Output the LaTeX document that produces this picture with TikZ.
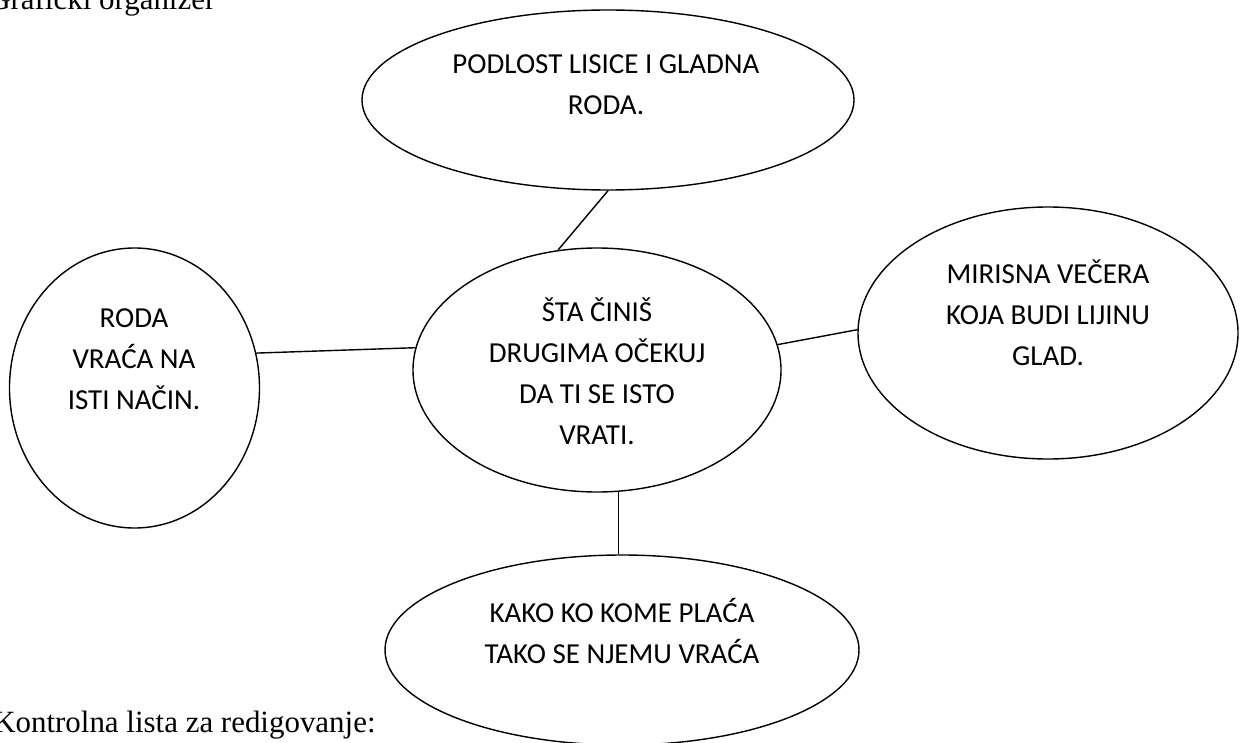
\documentclass[tikz,border=0pt]{standalone}
\usepackage{fontspec}
\setmainfont{Liberation Serif}
\newfontfamily\calibfont{Carlito}
\usetikzlibrary{shapes.geometric}
\newcommand{\pxu}{0.025cm}
\tikzset{
  orgbubble/.style={draw, ellipse, line width=1pt, inner sep=0pt, fill=white},
  orgtext/.style={font=\calibfont\fontsize{20.6}{29.2}\selectfont, align=center, inner sep=0pt},
  orglink/.style={line width=1pt},
  orgnote/.style={font=\fontsize{22}{26}\selectfont, anchor=base west, inner sep=0pt},
}

\begin{document}
\begin{tikzpicture}[x=\pxu, y=-\pxu]
  \useasboundingbox (0,0) rectangle (1241,742);
  \node[orgnote] (title) at (-12,9.5) {Grafički organizer};
  \node[orgnote] (list) at (-7,732) {Kontrolna lista za redigovanje:};

  % bubbles
  \node[orgbubble, minimum width=492*\pxu, minimum height=180*\pxu] (top) at (608,100) {};
  \node[orgbubble, minimum width=368*\pxu, minimum height=244*\pxu] (mid) at (597,370) {};
  \node[orgbubble, minimum width=250*\pxu, minimum height=280*\pxu] (left) at (134.5,388) {};
  \node[orgbubble, minimum width=380*\pxu, minimum height=252*\pxu] (right) at (1048,333) {};
  \node[orgbubble, minimum width=474*\pxu, minimum height=190*\pxu] (bot) at (622,650) {};

  % texts
  \node[orgtext] (topT) at (606,85) {PODLOST LISICE I GLADNA\\RODA.};
  \node[orgtext] (midT) at (597,371) {ŠTA ČINIŠ\\DRUGIMA OČEKUJ\\DA TI SE ISTO\\VRATI.};
  \node[orgtext] (leftT) at (134,359) {RODA\\VRAĆA NA\\ISTI NAČIN.};
  \node[orgtext] (rightT) at (1048,313) {MIRISNA VEČERA\\KOJA BUDI LIJINU\\GLAD.};
  \node[orgtext] (botT) at (622,631) {KAKO KO KOME PLAĆA\\TAKO SE NJEMU VRAĆA};

  % links
  \draw[orglink] (top.south) -- (mid.108);
  \draw[orglink] (left.16) -- (mid.173);
  \draw[orglink] (mid.8) -- (right.179);
  \draw[orglink] (mid.280) -- (mid.280 |- bot.north);
\end{tikzpicture}
\end{document}
